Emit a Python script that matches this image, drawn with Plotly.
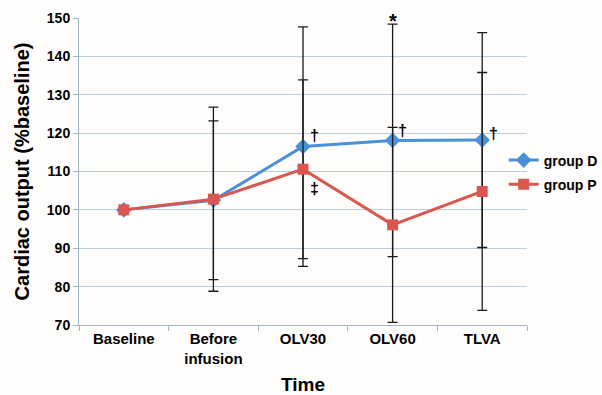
import plotly.graph_objects as go

categories = ["Baseline", "Before<br>infusion", "OLV30", "OLV60", "TLVA"]
group_d = [100, 102.5, 116.5, 118.1, 118.2]
group_d_err = [0, 20.7, 31.2, 30.3, 28.0]
group_p = [100, 102.8, 110.6, 96.1, 104.8]
group_p_err = [0, 24.0, 23.3, 25.4, 31.0]

marks = [
    ("†", 2, 119.5, 11),
    ("‡", 2, 105.5, 11),
    ("*", 3, 149.2, 0),
    ("†", 3, 120.8, 10),
    ("†", 4, 119.8, 11),
]

BLUE = "#4A90D9"
RED = "#D9574F"
FONT = "Liberation Sans"

fig = go.Figure()
fig.add_trace(go.Scatter(
    x=categories, y=group_d, name="group D", mode="lines+markers", legendgroup="d",
    line=dict(color=BLUE, width=3),
    marker=dict(symbol="diamond", size=12, color=BLUE),
    error_y=dict(type="data", array=group_d_err, color="#1a1a1a", thickness=1.3, width=5),
))
fig.add_trace(go.Scatter(
    x=categories, y=group_p, name="group P", mode="lines+markers", legendgroup="p",
    line=dict(color=RED, width=3),
    marker=dict(symbol="square", size=11, color=RED),
    error_y=dict(type="data", array=group_p_err, color="#1a1a1a", thickness=1.3, width=5),
))

for txt, xi, yv, xs in marks:
    fig.add_annotation(x=categories[xi], y=yv, text=txt, showarrow=False,
                       xshift=xs, font=dict(family=FONT, size=20 if txt == "*" else 16,
                                            color="black", weight="bold"))

fig.update_layout(
    width=602, height=395,
    margin=dict(l=79, r=75, t=18, b=70, autoexpand=False),
    paper_bgcolor="#FFFDFB", plot_bgcolor="#FFFDFB",
    font=dict(family=FONT, color="black"),
    legend=dict(x=0.948, xanchor="left", y=0.588, yanchor="top",
                font=dict(family=FONT, size=14, weight="bold"),
                bgcolor="rgba(0,0,0,0)", tracegroupgap=3),
    showlegend=True,
)
fig.update_xaxes(
    type="category", range=[-0.5, 4.5],
    showline=True, linecolor="#9FB8C8", linewidth=1,
    ticks="outside", tickson="boundaries", ticklen=5, tickcolor="#9FB8C8",
    showgrid=False,
    tickfont=dict(family=FONT, size=15, weight="bold"),
    title=dict(text="Time", font=dict(family=FONT, size=19, weight="bold"), standoff=14),
)
fig.update_yaxes(
    range=[70, 150], dtick=10,
    showline=True, linecolor="#9FB8C8", linewidth=1,
    ticks="outside", ticklen=5, tickcolor="#9FB8C8",
    showgrid=True, gridcolor="#B9CFDC", gridwidth=1,
    zeroline=False,
    tickfont=dict(family=FONT, size=14, weight="bold"),
    title=dict(text="Cardiac output (%baseline)", font=dict(family=FONT, size=20, weight="bold"), standoff=11),
)

fig.write_html("out.html")
